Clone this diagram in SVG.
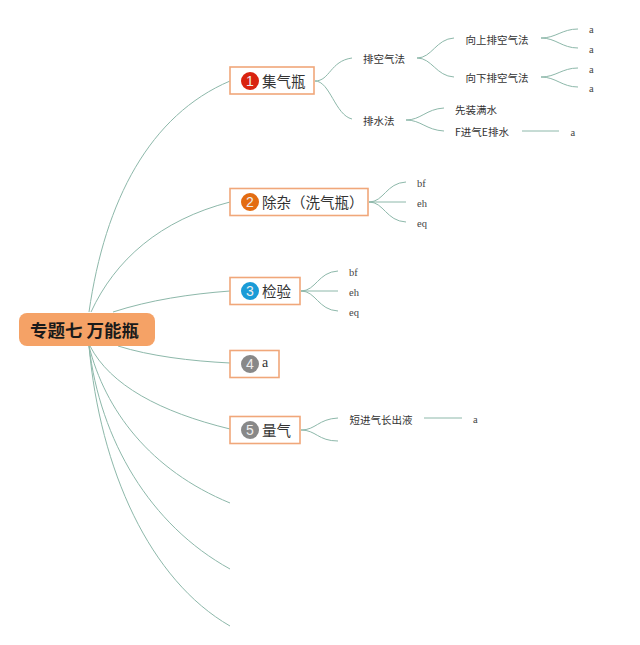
<svg xmlns="http://www.w3.org/2000/svg" width="640" height="645" viewBox="0 0 640 645">
<style>
.c{fill:none;stroke:#8db8aa;stroke-width:1}
.b{fill:#fff;stroke:#f0a77a;stroke-width:1.6}
.t{font-family:"Noto Sans CJK SC","Liberation Serif",sans-serif;fill:#333}
.m{font-size:14.5px}
.s{font-size:10.5px}
.l{font-family:"Liberation Serif",serif;font-size:10.5px;fill:#444}
.n{font-family:"Liberation Sans",sans-serif;font-size:14px;fill:#eee;text-anchor:middle}
</style>
<rect width="640" height="645" fill="#fff"/>
<g id="connectors" class="c">
<path d="M89 312C105 200 150 115 230 81"/>
<path d="M91 312C115 260 160 220 230 202"/>
<path d="M113 312C150 300 190 294 230 291"/>
<path d="M118 346C150 356 190 361 230 363"/>
<path d="M90 346C110 385 160 412 230 429"/>
<path d="M89 346C105 410 150 470 230 503"/>
<path d="M89 346C100 440 150 525 230 569"/>
<path d="M89 346C100 470 150 580 230 626"/>
<path d="M315 81C330 81 330 61 352 58"/>
<path d="M315 81C330 81 335 115 352 119"/>
<path d="M417 58C432 58 436 39 454 38"/>
<path d="M417 58C432 58 436 76 454 77"/>
<path d="M541 38C556 38 562 29 578 29"/>
<path d="M541 38C556 38 562 48 578 48"/>
<path d="M541 77C556 77 562 68 578 68"/>
<path d="M541 77C556 77 562 87 578 87"/>
<path d="M406 120C421 120 426 109 444 108"/>
<path d="M406 120C421 120 426 130 444 131"/>
<path d="M522 131H559"/>
<path d="M369 202C384 202 386 183 406 182"/>
<path d="M369 202H406"/>
<path d="M369 202C384 202 386 221 406 222"/>
<path d="M301 291C316 291 318 272 338 271"/>
<path d="M301 291H338"/>
<path d="M301 291C316 291 318 310 338 311"/>
<path d="M301 430C316 430 318 419 338 418"/>
<path d="M301 430C316 430 318 441 338 441"/>
<path d="M424 418H462"/>
</g>
<g id="root"><rect x="19" y="313" width="136" height="33" rx="8" fill="#f5a266"/><text x="30" y="337" font-family="'Noto Sans CJK SC',sans-serif" font-size="17.5" font-weight="700" fill="#1a1a1a">专题七 万能瓶</text></g>
<g id="node1"><rect class="b" x="230" y="67" width="84" height="27"/><circle cx="250" cy="81" r="9" fill="#d9230f"/><text class="n" x="250" y="86">1</text><text class="t m" x="262" y="87">集气瓶</text></g>
<g id="node2"><rect class="b" x="230" y="188.500" width="138" height="27"/><circle cx="250" cy="202" r="9" fill="#e36c12"/><text class="n" x="250" y="207">2</text><text class="t m" x="262" y="208">除杂（洗气瓶）</text></g>
<g id="node3"><rect class="b" x="230" y="277.500" width="70" height="27"/><circle cx="250" cy="291" r="9" fill="#1a9bd7"/><text class="n" x="250" y="296">3</text><text class="t m" x="262" y="297">检验</text></g>
<g id="node4"><rect class="b" x="230" y="350.500" width="49" height="27"/><circle cx="250" cy="364" r="9" fill="#888"/><text class="n" x="250" y="369">4</text><text x="262" y="367" font-family="'Liberation Serif',serif" font-size="14" fill="#333">a</text></g>
<g id="node5"><rect class="b" x="230" y="416.500" width="70" height="27"/><circle cx="250" cy="430" r="9" fill="#888"/><text class="n" x="250" y="435">5</text><text class="t m" x="262" y="436">量气</text></g>
<g id="n-pk"><text class="t s" x="363" y="63">排空气法</text></g>
<g id="n-ps"><text class="t s" x="363" y="125">排水法</text></g>
<g id="n-up"><text class="t s" x="465.500" y="44">向上排空气法</text></g>
<g id="n-down"><text class="t s" x="465.500" y="82">向下排空气法</text></g>
<g id="n-a1"><text class="l" x="589" y="33">a</text></g>
<g id="n-a2"><text class="l" x="589" y="53">a</text></g>
<g id="n-a3"><text class="l" x="589" y="73">a</text></g>
<g id="n-a4"><text class="l" x="589" y="92">a</text></g>
<g id="n-fill"><text class="t s" x="455" y="114">先装满水</text></g>
<g id="n-f"><text class="t s" x="455" y="136">F进气E排水</text></g>
<g id="n-a5"><text class="l" x="570.500" y="136">a</text></g>
<g id="n-bf1"><text class="l" x="417" y="187">bf</text></g>
<g id="n-eh1"><text class="l" x="417" y="207">eh</text></g>
<g id="n-eq1"><text class="l" x="417" y="227">eq</text></g>
<g id="n-bf2"><text class="l" x="349" y="276">bf</text></g>
<g id="n-eh2"><text class="l" x="349" y="296">eh</text></g>
<g id="n-eq2"><text class="l" x="349" y="316">eq</text></g>
<g id="n-short"><text class="t s" x="349.500" y="424">短进气长出液</text></g>
<g id="n-a6"><text class="l" x="473" y="423">a</text></g>
</svg>
